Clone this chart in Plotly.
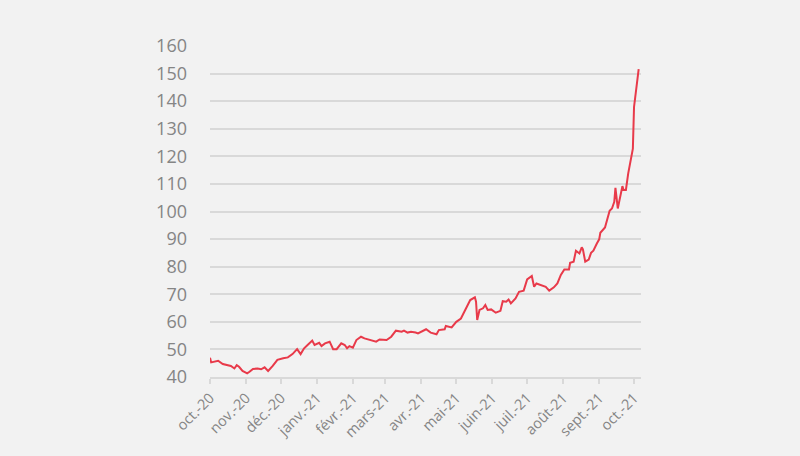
import plotly.graph_objects as go

dates = [
    "2020-10-01", "2020-10-02", "2020-10-08", "2020-10-12", "2020-10-19", "2020-10-22",
    "2020-10-24", "2020-10-26", "2020-10-29", "2020-11-02", "2020-11-04", "2020-11-07",
    "2020-11-11", "2020-11-14", "2020-11-17", "2020-11-20", "2020-11-24", "2020-11-28",
    "2020-12-03", "2020-12-07", "2020-12-11", "2020-12-15", "2020-12-18", "2020-12-21",
    "2020-12-24", "2020-12-28", "2020-12-30", "2021-01-03", "2021-01-05", "2021-01-08",
    "2021-01-12", "2021-01-13", "2021-01-15", "2021-01-18", "2021-01-22", "2021-01-25",
    "2021-01-27", "2021-01-29", "2021-02-01", "2021-02-04", "2021-02-08", "2021-02-11",
    "2021-02-15", "2021-02-21", "2021-02-24", "2021-03-02", "2021-03-06", "2021-03-10",
    "2021-03-15", "2021-03-17", "2021-03-20", "2021-03-23", "2021-03-27", "2021-03-29",
    "2021-04-05", "2021-04-09", "2021-04-14", "2021-04-16", "2021-04-21", "2021-04-22",
    "2021-04-27", "2021-05-01", "2021-05-05", "2021-05-09", "2021-05-13", "2021-05-17",
    "2021-05-18", "2021-05-19", "2021-05-21", "2021-05-24", "2021-05-26", "2021-05-28",
    "2021-05-31", "2021-06-04", "2021-06-08", "2021-06-10", "2021-06-13", "2021-06-15",
    "2021-06-17", "2021-06-21", "2021-06-24", "2021-06-28", "2021-07-01", "2021-07-05",
    "2021-07-07", "2021-07-09", "2021-07-13", "2021-07-17", "2021-07-20", "2021-07-24",
    "2021-07-27", "2021-07-30", "2021-08-02", "2021-08-06", "2021-08-07", "2021-08-10",
    "2021-08-12", "2021-08-15", "2021-08-17", "2021-08-18", "2021-08-20", "2021-08-23",
    "2021-08-25", "2021-08-27", "2021-08-30", "2021-09-01", "2021-09-02", "2021-09-06",
    "2021-09-10", "2021-09-12", "2021-09-14", "2021-09-15", "2021-09-17", "2021-09-19",
    "2021-09-21", "2021-09-22", "2021-09-24", "2021-09-26", "2021-09-29", "2021-09-30",
    "2021-10-01", "2021-10-03", "2021-10-05",
]

values = [
    47.0, 45.3, 45.9, 44.7, 44.0, 43.1,
    44.3, 43.7, 42.2, 41.3, 41.9, 42.9,
    43.1, 42.8, 43.5, 42.2, 44.0, 46.2,
    46.8, 47.1, 48.3, 50.1, 48.3, 50.4,
    51.6, 53.2, 51.6, 52.4, 51.2, 52.2,
    52.8, 51.8, 50.1, 50.1, 52.2, 51.6,
    50.4, 51.2, 50.6, 53.4, 54.6, 54.0,
    53.6, 52.8, 53.6, 53.4, 54.6, 56.8,
    56.4, 56.8, 56.1, 56.4, 56.1, 55.8,
    57.3, 56.1, 55.5, 57.0, 57.3, 58.5,
    58.0, 60.0, 61.2, 64.3, 67.9, 68.9,
    67.3, 60.7, 64.3, 64.9, 66.1, 64.3,
    64.5, 63.3, 64.0, 67.5, 67.3, 68.1,
    66.7, 68.5, 70.9, 71.3, 75.4, 76.6,
    72.7, 73.9, 73.3, 72.7, 71.3, 72.5,
    73.9, 77.0, 79.0, 79.0, 81.4, 81.8,
    85.8, 84.8, 87.0, 86.3, 81.8, 82.6,
    85.0, 85.8, 88.4, 89.9, 92.3, 94.2,
    100.3, 101.1, 103.5, 108.6, 101.1, 105.9,
    109.2, 107.8, 107.8, 113.8, 121.6, 122.8,
    137.9, 144.6, 151.6,
]

tick_dates = [
    "2020-10-01", "2020-11-01", "2020-12-01", "2021-01-01", "2021-02-01",
    "2021-03-01", "2021-04-01", "2021-05-01", "2021-06-01", "2021-07-01",
    "2021-08-01", "2021-09-01", "2021-10-01",
]
tick_labels = [
    "oct.-20", "nov.-20", "déc.-20", "janv.-21", "févr.-21", "mars-21", "avr.-21",
    "mai-21", "juin-21", "juil.-21", "août-21", "sept.-21", "oct.-21",
]
y_ticks = list(range(40, 161, 10))

fig = go.Figure()
fig.add_trace(go.Scatter(
    x=dates, y=values, mode="lines",
    line=dict(color="#e83a4a", width=2),
    showlegend=False, hoverinfo="x+y",
))

fig.update_layout(
    width=800, height=456,
    margin=dict(l=210, r=159, t=46, b=79),
    paper_bgcolor="#f2f2f2", plot_bgcolor="#f2f2f2",
    font=dict(family="'Open Sans', Lato, sans-serif", color="#858585"),
)
fig.update_xaxes(
    type="date",
    range=["2020-10-01", "2021-10-07"],
    tickmode="array", tickvals=tick_dates, ticktext=tick_labels,
    tickangle=-45, tickfont=dict(size=14.5, color="#858585"),
    showgrid=False, showline=True, linecolor="#d9d9d9", linewidth=1.5,
    ticks="outside", ticklen=5, tickcolor="#d9d9d9", tickwidth=1.5,
    zeroline=False,
)
fig.update_yaxes(
    range=[40, 160], tickmode="array", tickvals=y_ticks,
    tickfont=dict(size=18, color="#858585"),
    showgrid=True, gridcolor="#d9d9d9", gridwidth=1.5,
    showline=False, zeroline=False, ticks="", ticklabelstandoff=22,
)

fig.write_html(
    "out.html",
    config={"displayModeBar": False},
    post_script="document.body.style.margin='0';document.body.style.background='#f2f2f2';",
)
